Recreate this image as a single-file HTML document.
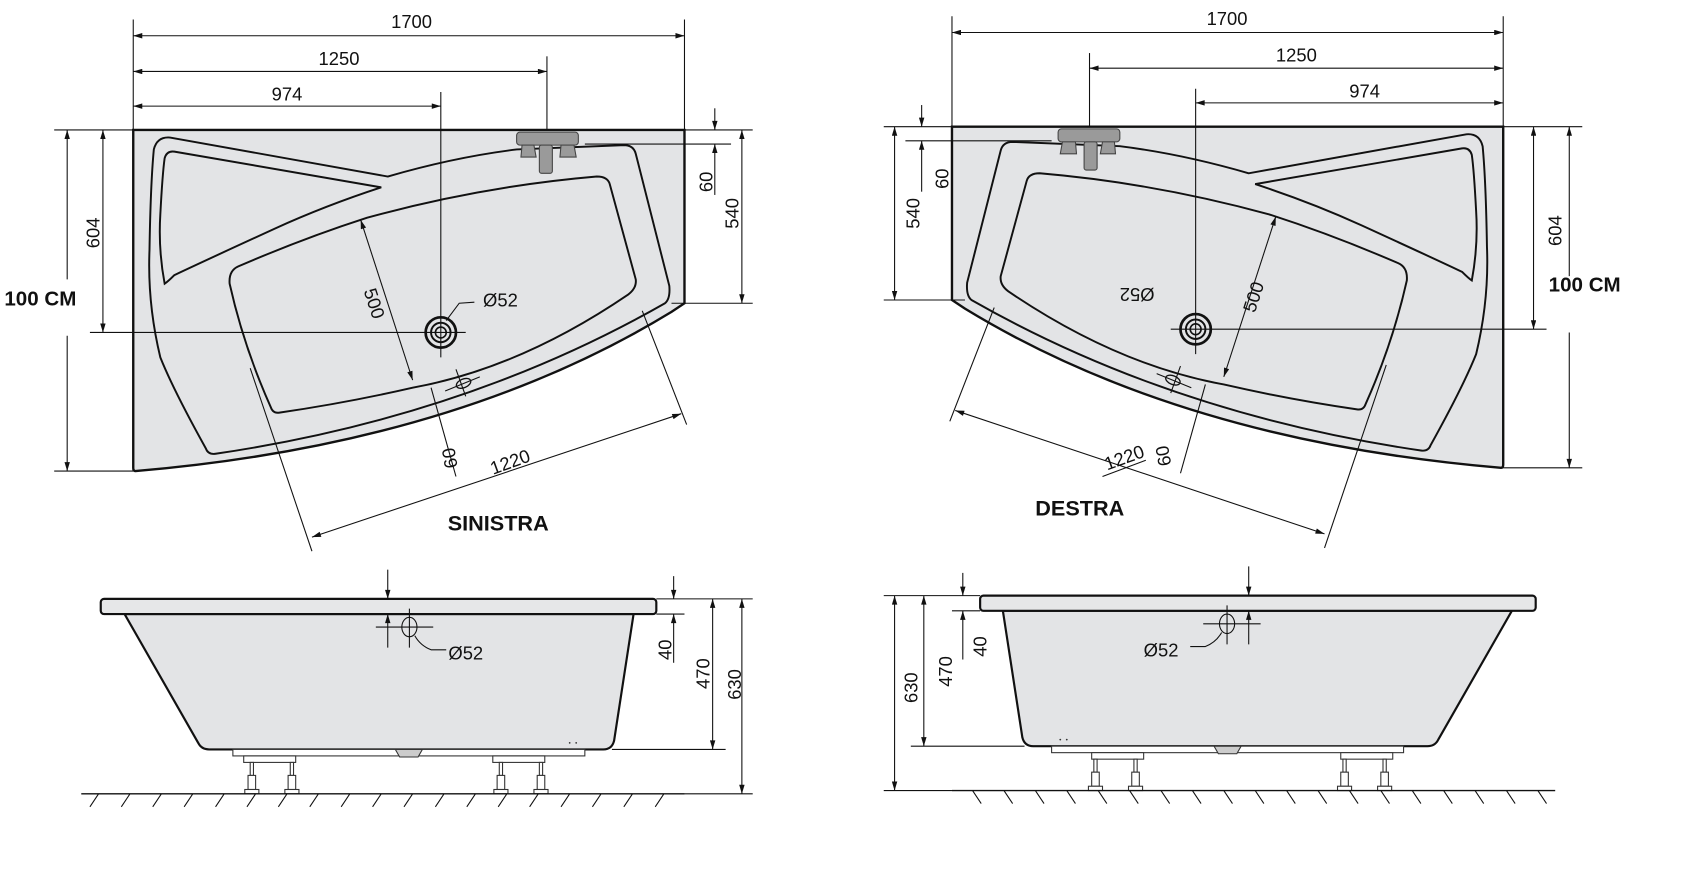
<!DOCTYPE html>
<html><head><meta charset="utf-8">
<style>
html,body{margin:0;padding:0;background:#fff;}
svg{display:block;}
text{font-family:"Liberation Sans",sans-serif;fill:#111;}
.d{font-size:17px;}
.b{font-weight:bold;font-size:19px;}
</style></head>
<body>
<svg width="1701" height="881" viewBox="0 0 1570.6 813.5" xmlns="http://www.w3.org/2000/svg">
<defs>
<marker id="a" viewBox="0 0 10 6" refX="10" refY="3" markerWidth="9" markerHeight="5" markerUnits="userSpaceOnUse" orient="auto-start-reverse"><path d="M0,0 L10,3 L0,6z" fill="#111"/></marker>
<g id="top">
 <path d="M123,120 L632,120 L632,280 L620,288 Q420,410 125,435 Q123,435 123,432 Z" fill="#e3e4e6" stroke="#111" stroke-width="2.2"/>
 <path d="M157,127 L358,163 Q420,145 477,138 L576,134 Q585,134 587,142 L618,264 Q619,276 614,280 Q430,385 199,419 Q192,420 190,414 Q160,360 148,330 Q136,280 138,231 Q139,170 142,138 Q145,126 157,127 Z" fill="none" stroke="#111" stroke-width="1.8"/>
 <path d="M161,140 L352,173 Q300,190 254,211 Q195,238 161,254 Q155,260 152,262 Q146,230 148,198 Q150,160 152,146 Q154,139 161,140 Z" fill="none" stroke="#111" stroke-width="1.8"/>
 <path d="M220,246 Q280,220 339,201 Q445,172 551,163 Q561,163 563,170 L587,258 Q588,266 580,272 Q480,340 381,358 Q320,372 258,381 Q252,382 250,376 Q225,320 212,262 Q211,250 220,246 Z" fill="none" stroke="#111" stroke-width="1.8"/>
 <rect x="477" y="122" width="57" height="12" rx="3" fill="#9a9a9a" stroke="#444" stroke-width="1"/>
 <path d="M482,134 L493,134 L495,145 L481,145 Z M518,134 L530,134 L532,145 L517,145 Z" fill="#9a9a9a" stroke="#444" stroke-width="1"/>
 <rect x="498" y="134" width="12" height="26" rx="2" fill="#9a9a9a" stroke="#444" stroke-width="1"/>
 <circle cx="407" cy="307" r="14" fill="none" stroke="#111" stroke-width="2.5"/>
 <circle cx="407" cy="307" r="9" fill="none" stroke="#111" stroke-width="1.8"/>
 <circle cx="407" cy="307" r="5" fill="none" stroke="#111" stroke-width="1.5"/>
 <ellipse cx="428" cy="354" rx="7" ry="4" transform="rotate(-22 428 354)" fill="none" stroke="#111" stroke-width="1.2"/>
 <line x1="411" y1="361" x2="443" y2="348" stroke="#111" stroke-width="1"/>
 <line x1="421" y1="341" x2="430" y2="366" stroke="#111" stroke-width="1"/>
 <g stroke="#111" stroke-width="1" fill="none">
  <line x1="123" y1="33" x2="632" y2="33" marker-start="url(#a)" marker-end="url(#a)"/>
  <line x1="123" y1="66" x2="505" y2="66" marker-start="url(#a)" marker-end="url(#a)"/>
  <line x1="123" y1="98" x2="407" y2="98" marker-start="url(#a)" marker-end="url(#a)"/>
  <line x1="123" y1="18" x2="123" y2="120"/>
  <line x1="632" y1="18" x2="632" y2="120"/>
  <line x1="505" y1="52" x2="505" y2="120"/>
  <line x1="407" y1="85" x2="407" y2="330"/>
  <line x1="83" y1="307" x2="430" y2="307"/>
  <line x1="50" y1="120" x2="123" y2="120"/>
  <line x1="50" y1="435" x2="123" y2="435"/>
  <line x1="95" y1="120" x2="95" y2="307" marker-start="url(#a)" marker-end="url(#a)"/>
  <line x1="62" y1="120" x2="62" y2="258" marker-start="url(#a)"/>
  <line x1="62" y1="310" x2="62" y2="435" marker-end="url(#a)"/>
  <line x1="632" y1="120" x2="695" y2="120"/>
  <line x1="540" y1="133" x2="675" y2="133"/>
  <line x1="620" y1="280" x2="695" y2="280"/>
  <line x1="660" y1="100" x2="660" y2="120" marker-end="url(#a)"/>
  <line x1="660" y1="180" x2="660" y2="133" marker-end="url(#a)"/>
  <line x1="685" y1="120" x2="685" y2="280" marker-start="url(#a)" marker-end="url(#a)"/>
  <line x1="333" y1="203" x2="381" y2="351" marker-start="url(#a)" marker-end="url(#a)"/>
  <line x1="398" y1="358" x2="421" y2="440"/>
  <line x1="288" y1="496" x2="629" y2="382" marker-start="url(#a)" marker-end="url(#a)"/>
  <line x1="231" y1="340" x2="288" y2="509"/>
  <line x1="593" y1="287" x2="634" y2="392"/>
 </g>
</g>
<g id="side">
 <path d="M115,567 L585,567 L567,684 Q565,692 557,692 L193,692 Q186,692 183,686 Z" fill="#e3e4e6" stroke="#111" stroke-width="2"/>
 <rect x="93" y="553" width="513" height="14" rx="3" fill="#e6e7e8" stroke="#111" stroke-width="2"/>
 <rect x="215" y="692" width="325" height="6" fill="#fff" stroke="#333" stroke-width="1"/>
 <path d="M365,692 L390,692 L386,699 L369,699 Z" fill="#ccc" stroke="#333" stroke-width="1"/>
 <circle cx="526" cy="686" r="0.8" fill="#333"/><circle cx="532" cy="686" r="0.8" fill="#333"/>
 <g fill="#fff" stroke="#333" stroke-width="1">
  <rect x="225" y="698" width="48" height="6"/><rect x="455" y="698" width="48" height="6"/>
  <rect x="231" y="704" width="3" height="12"/><rect x="268" y="704" width="3" height="12"/>
  <rect x="461" y="704" width="3" height="12"/><rect x="498" y="704" width="3" height="12"/>
  <rect x="229" y="716" width="7" height="13"/><rect x="266" y="716" width="7" height="13"/>
  <rect x="459" y="716" width="7" height="13"/><rect x="496" y="716" width="7" height="13"/>
  <rect x="226" y="729" width="13" height="4"/><rect x="263" y="729" width="13" height="4"/>
  <rect x="456" y="729" width="13" height="4"/><rect x="493" y="729" width="13" height="4"/>
 </g>
 <g stroke="#111" stroke-width="1" fill="none">
  <ellipse cx="378" cy="579" rx="7" ry="9"/>
  <line x1="347" y1="579" x2="400" y2="579"/>
  <line x1="378" y1="562" x2="378" y2="598"/>
  <line x1="358" y1="526" x2="358" y2="553" marker-end="url(#a)"/>
  <line x1="358" y1="598" x2="358" y2="567" marker-end="url(#a)"/>
  <path d="M383,587 Q388,596 398,600 L412,600"/>
  <line x1="75" y1="733" x2="632" y2="733" stroke-width="1.2"/>
  <line x1="606" y1="553" x2="695" y2="553"/>
  <line x1="606" y1="567" x2="632" y2="567"/>
  <line x1="565" y1="692" x2="670" y2="692"/>
  <line x1="632" y1="733" x2="695" y2="733"/>
  <line x1="622" y1="532" x2="622" y2="553" marker-end="url(#a)"/>
  <line x1="622" y1="612" x2="622" y2="567" marker-end="url(#a)"/>
  <line x1="658" y1="553" x2="658" y2="692" marker-start="url(#a)" marker-end="url(#a)"/>
  <line x1="685" y1="553" x2="685" y2="733" marker-start="url(#a)" marker-end="url(#a)"/>
  <path d="M91,733 l-8,12 M120,733 l-8,12 M149,733 l-8,12 M178,733 l-8,12 M207,733 l-8,12 M236,733 l-8,12 M265,733 l-8,12 M294,733 l-8,12 M323,733 l-8,12 M352,733 l-8,12 M381,733 l-8,12 M410,733 l-8,12 M439,733 l-8,12 M468,733 l-8,12 M497,733 l-8,12 M526,733 l-8,12 M555,733 l-8,12 M584,733 l-8,12 M613,733 l-8,12"/>
 </g>
</g>
</defs>

<use href="#top"/>
<use href="#top" transform="translate(1511,-3) scale(-1,1)"/>
<use href="#side"/>
<use href="#side" transform="translate(1511,-3) scale(-1,1)"/>

<text class="d" x="380" y="26" text-anchor="middle">1700</text>
<text class="d" x="313" y="60" text-anchor="middle">1250</text>
<text class="d" x="265" y="93" text-anchor="middle">974</text>
<text class="d" transform="translate(92,215) rotate(-90)" text-anchor="middle">604</text>
<text class="b" x="4" y="282">100 CM</text>
<text class="d" transform="translate(658,168) rotate(-90)" text-anchor="middle">60</text>
<text class="d" transform="translate(682,197) rotate(-90)" text-anchor="middle">540</text>
<text class="d" transform="translate(340,282) rotate(72)" text-anchor="middle">500</text>
<text class="d" x="446" y="283">Ø52</text>
<path d="M412,296 L424,280 L438,279" fill="none" stroke="#111" stroke-width="1"/>
<text class="d" transform="translate(421,422) rotate(-100)" text-anchor="middle">60</text>
<text class="d" transform="translate(473,432) rotate(-20)" text-anchor="middle">1220</text>
<text class="b" x="460" y="490" text-anchor="middle" style="font-size:20px">SINISTRA</text>

<text class="d" x="1133" y="23" text-anchor="middle">1700</text>
<text class="d" x="1197" y="57" text-anchor="middle">1250</text>
<text class="d" x="1260" y="90" text-anchor="middle">974</text>
<text class="d" transform="translate(849,197) rotate(-90)" text-anchor="middle">540</text>
<text class="d" transform="translate(876,165) rotate(-90)" text-anchor="middle">60</text>
<text class="d" transform="translate(1442,213) rotate(-90)" text-anchor="middle">604</text>
<text class="b" x="1430" y="269">100 CM</text>
<text class="d" transform="translate(1050,266) rotate(180)" text-anchor="middle">Ø52</text>
<text class="d" transform="translate(1163,276) rotate(-72)" text-anchor="middle">500</text>
<text class="d" transform="translate(1080,420) rotate(-100)" text-anchor="middle">60</text>
<text class="d" transform="translate(1040,428) rotate(-20)" text-anchor="middle">1220</text>
<line x1="1018" y1="440" x2="1058" y2="425" stroke="#111" stroke-width="1"/>
<text class="b" x="997" y="476" text-anchor="middle" style="font-size:20px">DESTRA</text>

<text class="d" transform="translate(620,600) rotate(-90)" text-anchor="middle">40</text>
<text class="d" transform="translate(655,622) rotate(-90)" text-anchor="middle">470</text>
<text class="d" transform="translate(684,632) rotate(-90)" text-anchor="middle">630</text>
<text class="d" x="414" y="609">Ø52</text>
<text class="d" transform="translate(911,597) rotate(-90)" text-anchor="middle">40</text>
<text class="d" transform="translate(879,620) rotate(-90)" text-anchor="middle">470</text>
<text class="d" transform="translate(847,635) rotate(-90)" text-anchor="middle">630</text>
<text class="d" x="1056" y="606">Ø52</text>
</svg>
</body></html>
